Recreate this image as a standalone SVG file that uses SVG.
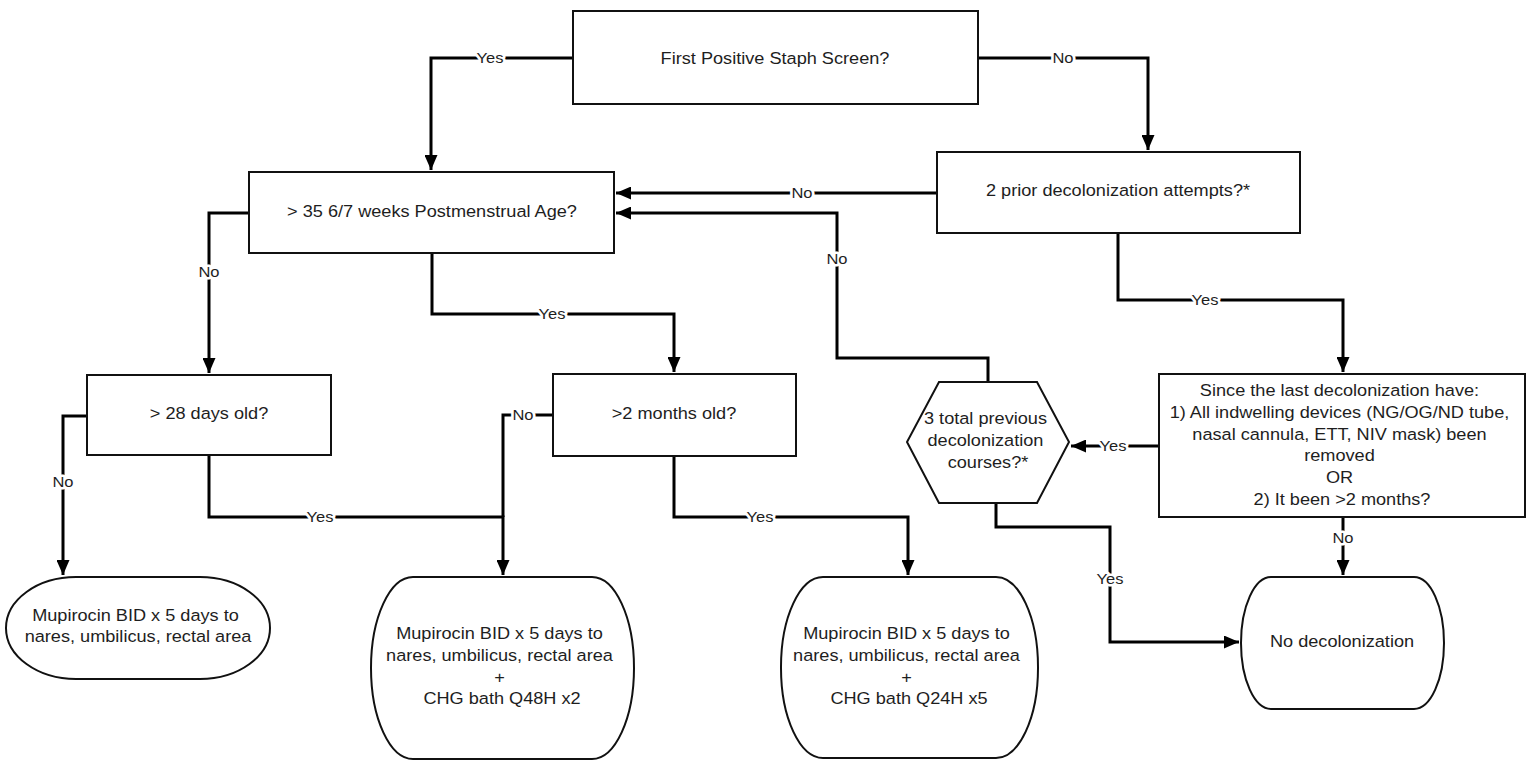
<svg xmlns="http://www.w3.org/2000/svg" width="1533" height="762" viewBox="0 0 1533 762">
<style>
.n{fill:#fff;stroke:#111;stroke-width:2}
.c{fill:none;stroke:#000;stroke-width:3}
.t{font-family:"Liberation Sans",Arial,sans-serif;font-size:16.5px;fill:#1e1e1e;text-anchor:middle}
.l{font-family:"Liberation Sans",Arial,sans-serif;font-size:15px;fill:#1e1e1e;text-anchor:middle;stroke:#fff;stroke-width:5;paint-order:stroke;stroke-linejoin:round}
</style>
<defs>
<marker id="ah" markerUnits="userSpaceOnUse" markerWidth="16" markerHeight="13" refX="15" refY="6.5" orient="auto">
<path d="M0,0 L15,6.5 L0,13 z" fill="#000"/>
</marker>
</defs>
<rect width="1533" height="762" fill="#fff"/>
<g id="connectors">
<path class="c" d="M573,58 H431 V170" marker-end="url(#ah)"/>
<path class="c" d="M978,58 H1148 V150" marker-end="url(#ah)"/>
<path class="c" d="M937,193 H616" marker-end="url(#ah)"/>
<path class="c" d="M1118,233 V300 H1343 V372" marker-end="url(#ah)"/>
<path class="c" d="M988,382 V358 H837 V213 H616" marker-end="url(#ah)"/>
<path class="c" d="M1159,446 H1071" marker-end="url(#ah)"/>
<path class="c" d="M1343,517 V575" marker-end="url(#ah)"/>
<path class="c" d="M996,503 V527 H1110 V642 H1239" marker-end="url(#ah)"/>
<path class="c" d="M249,213 H209 V373" marker-end="url(#ah)"/>
<path class="c" d="M432,253 V314 H674 V372" marker-end="url(#ah)"/>
<path class="c" d="M87,416 H63 V575" marker-end="url(#ah)"/>
<path class="c" d="M209,455 V517 H503 V575" marker-end="url(#ah)"/>
<path class="c" d="M553,415 H503 V517"/>
<path class="c" d="M674,456 V517 H908 V575" marker-end="url(#ah)"/>
<g>
<text class="l" transform="translate(490,63) scale(1.1,1)">Yes</text>
<text class="l" transform="translate(1063,63) scale(1.1,1)">No</text>
<text class="l" transform="translate(802,198) scale(1.1,1)">No</text>
<text class="l" transform="translate(1205,305) scale(1.1,1)">Yes</text>
<text class="l" transform="translate(837,264) scale(1.1,1)">No</text>
<text class="l" transform="translate(1113,451) scale(1.1,1)">Yes</text>
<text class="l" transform="translate(1343,543) scale(1.1,1)">No</text>
<text class="l" transform="translate(1110,584) scale(1.1,1)">Yes</text>
<text class="l" transform="translate(209,277) scale(1.1,1)">No</text>
<text class="l" transform="translate(552,319) scale(1.1,1)">Yes</text>
<text class="l" transform="translate(63,487) scale(1.1,1)">No</text>
<text class="l" transform="translate(320,522) scale(1.1,1)">Yes</text>
<text class="l" transform="translate(523,420) scale(1.1,1)">No</text>
<text class="l" transform="translate(760,522) scale(1.1,1)">Yes</text>
</g>
</g>
<g id="first-positive">
<rect class="n" x="573" y="11" width="405" height="93"/>
<text class="t" transform="translate(775,64) scale(1.1,1)">First Positive Staph Screen?</text>
</g>
<g id="pma">
<rect class="n" x="249" y="172" width="365" height="81"/>
<text class="t" transform="translate(432,217) scale(1.1,1)">&gt; 35 6/7 weeks Postmenstrual Age?</text>
</g>
<g id="two-prior">
<rect class="n" x="937" y="152" width="363" height="81"/>
<text class="t" transform="translate(1118,196) scale(1.1,1)">2 prior decolonization attempts?*</text>
</g>
<g id="days28">
<rect class="n" x="87" y="375" width="244" height="80"/>
<text class="t" transform="translate(209,419) scale(1.1,1)">&gt; 28 days old?</text>
</g>
<g id="months2">
<rect class="n" x="553" y="374" width="243" height="82"/>
<text class="t" transform="translate(674,419) scale(1.1,1)">&gt;2 months old?</text>
</g>
<g id="since-last">
<rect class="n" x="1159" y="374" width="366" height="143"/>
<text class="t" transform="translate(1342,0) scale(1.1,1)">
<tspan x="0" y="396">Since the last decolonization have:</tspan>
<tspan x="0" y="418">1) All indwelling devices (NG/OG/ND tube,</tspan>
<tspan x="0" y="440">nasal cannula, ETT, NIV mask) been</tspan>
<tspan x="0" y="461">removed</tspan>
<tspan x="0" y="483">OR</tspan>
<tspan x="0" y="505">2) It been &gt;2 months?</tspan>
</text>
</g>
<g id="three-total">
<polygon class="n" points="939,382 1037,382 1069,442 1037,503 939,503 907,442"/>
<text class="t" transform="translate(988,0) scale(1.1,1)">
<tspan x="0" y="424">3 total previous</tspan>
<tspan x="0" y="446">decolonization</tspan>
<tspan x="0" y="468">courses?*</tspan>
</text>
</g>
<g id="mupirocin">
<rect class="n" x="6" y="577" width="264" height="102" rx="70" ry="51"/>
<text class="t" transform="translate(138,0) scale(1.1,1)">
<tspan x="0" y="621">Mupirocin BID x 5 days to</tspan>
<tspan x="0" y="642">nares, umbilicus, rectal area</tspan>
</text>
</g>
<g id="mupirocin-chg48">
<rect class="n" x="371" y="577" width="263" height="182" rx="42" ry="91"/>
<text class="t" transform="translate(502,0) scale(1.1,1)">
<tspan x="0" y="639">Mupirocin BID x 5 days to</tspan>
<tspan x="0" y="661">nares, umbilicus, rectal area</tspan>
<tspan x="0" y="683">+</tspan>
<tspan x="0" y="704">CHG bath Q48H x2</tspan>
</text>
</g>
<g id="mupirocin-chg24">
<rect class="n" x="781" y="577" width="257" height="181" rx="42" ry="90"/>
<text class="t" transform="translate(909,0) scale(1.1,1)">
<tspan x="0" y="639">Mupirocin BID x 5 days to</tspan>
<tspan x="0" y="661">nares, umbilicus, rectal area</tspan>
<tspan x="0" y="683">+</tspan>
<tspan x="0" y="704">CHG bath Q24H x5</tspan>
</text>
</g>
<g id="no-decolonization">
<rect class="n" x="1241" y="577" width="203" height="132" rx="30" ry="66"/>
<text class="t" transform="translate(1342,647) scale(1.1,1)">No decolonization</text>
</g>
</svg>
